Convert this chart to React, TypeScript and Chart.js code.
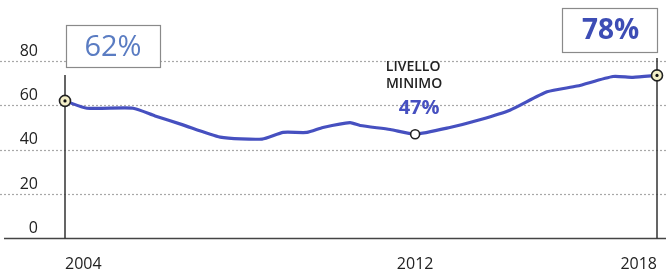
import React, { useEffect, useRef } from "react";
import { Chart, registerables } from "chart.js";

Chart.register(...registerables);

// Data (x as fractional years, y as %)
const years = [2004, 2004.52, 2005.61, 2006.13, 2006.77, 2007.67, 2008.66, 2009.16, 2009.72, 2010.1, 2010.74, 2010.98, 2011.69, 2012.28, 2013.1, 2013.81, 2014.52, 2015.4, 2016.11, 2016.96, 2017.43, 2018];
const values = [62, 58.7, 58.7, 55.2, 51.3, 45.7, 44.8, 47.8, 47.8, 50, 52.2, 50.9, 49.1, 47, 50, 53.5, 57.8, 66.1, 68.7, 73, 72.6, 73.5];

const yTicks = [0, 20, 40, 60, 80];
const xTickValues = [2004, 2012.28, 2018];
const xTickLabels = ["2004", "2012", "2018"];

const startLabel = "62%";
const endLabel = "78%";
const minTitle = ["LIVELLO", "MINIMO"];
const minLabel = "47%";
const minIndex = 13;

const FONT = "'Open Sans', 'DejaVu Sans', sans-serif";
const LINE_COLOR = "#4650c0";

const decorPlugin = {
  id: "decor",
  beforeDatasetsDraw(chart: any) {
    const { ctx, scales } = chart;
    const x = scales.x;
    const y = scales.y;
    const W = chart.width;
    ctx.save();
    // dotted gridlines
    ctx.setLineDash([2, 2]);
    ctx.strokeStyle = "#a8a8a8";
    ctx.lineWidth = 1.2;
    yTicks.forEach((v) => {
      if (v === 0) return;
      const py = Math.round(y.getPixelForValue(v)) + 0.5;
      ctx.beginPath();
      ctx.moveTo(0, py);
      ctx.lineTo(W, py);
      ctx.stroke();
    });
    ctx.setLineDash([]);
    // baseline
    const base = Math.round(y.getPixelForValue(0)) + 0.5;
    ctx.strokeStyle = "#444";
    ctx.lineWidth = 1.5;
    ctx.beginPath();
    ctx.moveTo(4, base);
    ctx.lineTo(W, base);
    ctx.stroke();
    // vertical lines at ends
    const lx = x.getPixelForValue(years[0]);
    const rx = x.getPixelForValue(years[years.length - 1]);
    ctx.strokeStyle = "#333";
    ctx.lineWidth = 1.5;
    ctx.beginPath();
    ctx.moveTo(lx, 75);
    ctx.lineTo(lx, base);
    ctx.moveTo(rx, 58);
    ctx.lineTo(rx, base);
    ctx.stroke();
    // x labels
    ctx.fillStyle = "#222";
    ctx.font = `16px ${FONT}`;
    ctx.textBaseline = "middle";
    const aligns = ["left", "center", "right"];
    xTickValues.forEach((v, i) => {
      ctx.textAlign = aligns[i];
      ctx.fillText(xTickLabels[i], x.getPixelForValue(v), 264);
    });
    ctx.restore();
  },
  afterDatasetsDraw(chart: any) {
    const { ctx } = chart;
    const meta = chart.getDatasetMeta(0);
    const pts = meta.data;
    const first = pts[0];
    const last = pts[pts.length - 1];
    const mn = pts[minIndex];
    ctx.save();
    // center dots
    ctx.fillStyle = "#111";
    [first, last].forEach((p: any) => {
      ctx.beginPath();
      ctx.arc(p.x, p.y, 1.6, 0, Math.PI * 2);
      ctx.fill();
    });
    // start box
    ctx.lineWidth = 1.2;
    ctx.strokeStyle = "#8a8a8a";
    ctx.fillStyle = "#fff";
    const sb = { x: first.x + 1, y: 25, w: 94, h: 42 };
    ctx.fillRect(sb.x, sb.y, sb.w, sb.h);
    ctx.strokeRect(sb.x + 0.5, sb.y + 0.5, sb.w, sb.h);
    ctx.fillStyle = "#5a7cc2";
    ctx.font = `400 29px ${FONT}`;
    ctx.textAlign = "center";
    ctx.textBaseline = "middle";
    ctx.fillText(startLabel, sb.x + sb.w / 2, sb.y + sb.h / 2 + 2);
    // end box
    const eb = { x: last.x - 95, y: 8, w: 95, h: 44 };
    ctx.fillStyle = "#fff";
    ctx.fillRect(eb.x, eb.y, eb.w, eb.h);
    ctx.strokeRect(eb.x + 0.5, eb.y + 0.5, eb.w, eb.h);
    ctx.fillStyle = "#3d4db5";
    ctx.font = `700 28px ${FONT}`;
    ctx.fillText(endLabel, eb.x + eb.w / 2 + 1, eb.y + eb.h / 2 + 1);
    // min annotation
    ctx.fillStyle = "#222";
    ctx.font = `600 14px ${FONT}`;
    ctx.fillText(minTitle[0], mn.x - 2, mn.y - 67);
    ctx.fillText(minTitle[1], mn.x - 1, mn.y - 50);
    ctx.fillStyle = LINE_COLOR;
    ctx.font = `700 20px ${FONT}`;
    ctx.fillText(minLabel, mn.x + 4, mn.y - 26);
    ctx.restore();
  },
};

export default function App() {
  const ref = useRef<HTMLCanvasElement>(null);
  useEffect(() => {
    document.body.style.margin = "0";
    document.body.style.background = "#fff";
    const lastIdx = values.length - 1;
    const chart = new Chart(ref.current as HTMLCanvasElement, {
      type: "line",
      data: {
        datasets: [
          {
            data: years.map((yr, i) => ({ x: yr, y: values[i] })),
            borderColor: LINE_COLOR,
            borderWidth: 3.2,
            tension: 0.2,
            clip: false as any,
            pointRadius: (c: any) =>
              c.dataIndex === 0 || c.dataIndex === lastIdx ? 5.5 : c.dataIndex === minIndex ? 4.5 : 0,
            pointBackgroundColor: (c: any) =>
              c.dataIndex === minIndex ? "#ffffff" : "#f4efc8",
            pointBorderColor: "#222",
            pointBorderWidth: 1.6,
            pointHoverRadius: 0,
          },
        ],
      },
      options: {
        responsive: false,
        animation: false,
        layout: { padding: { top: 61, right: 9, bottom: 30, left: 0 } },
        plugins: { legend: { display: false }, tooltip: { enabled: false } },
        events: [],
        scales: {
          x: { type: "linear", min: 2004, max: 2018, display: false },
          y: {
            min: 0,
            max: 80,
            afterFit: (s: any) => {
              s.width = 65;
            },
            afterBuildTicks: (s: any) => {
              s.ticks = yTicks.map((v) => ({ value: v }));
            },
            grid: { display: false, drawTicks: false },
            border: { display: false },
            ticks: {
              padding: 27,
              labelOffset: -10,
              color: "#222",
              font: { family: FONT, size: 16 },
            },
          },
        },
      },
      plugins: [decorPlugin],
    });
    return () => chart.destroy();
  }, []);
  return (
    <div style={{ width: 666, height: 275 }}>
      <canvas ref={ref} width={666} height={275} />
    </div>
  );
}
